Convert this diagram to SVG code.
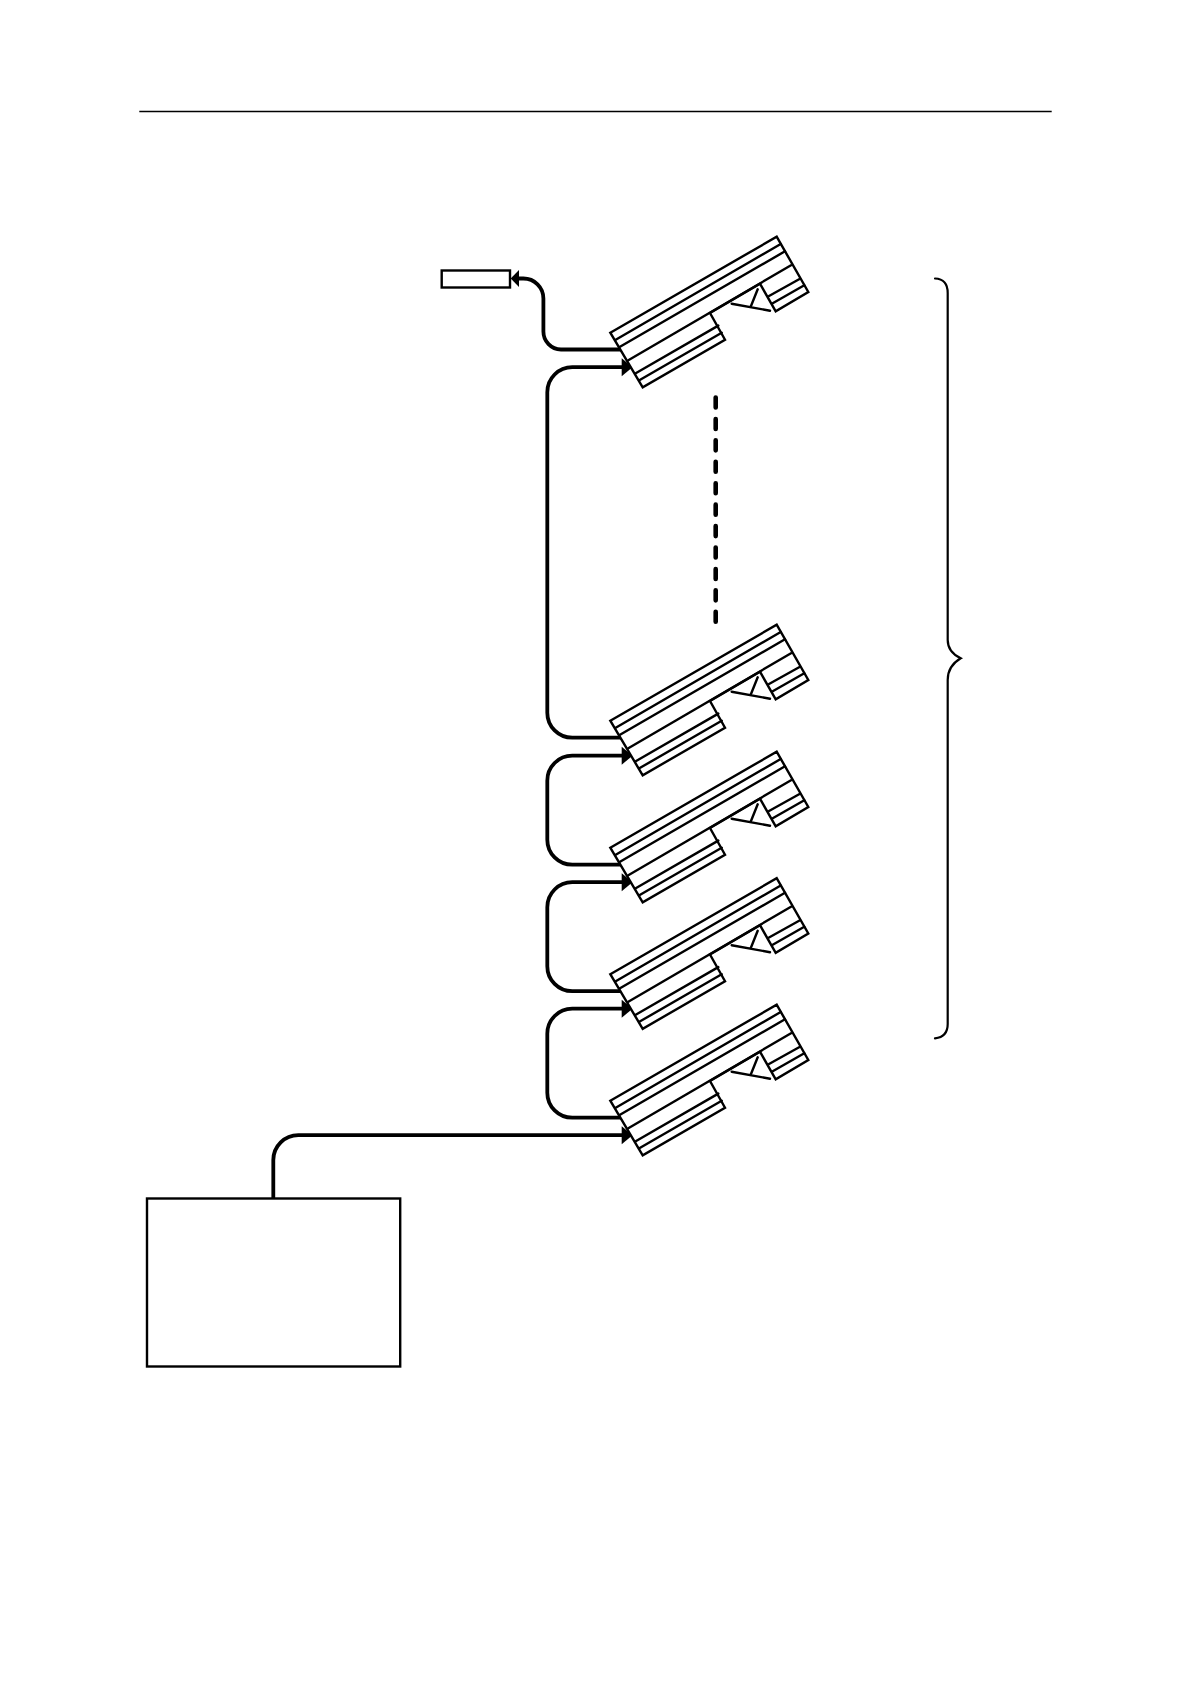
<svg xmlns="http://www.w3.org/2000/svg" width="1190" height="1684" viewBox="0 0 1190 1684">
  <style>
    .box { fill: #fff; stroke: #000; stroke-width: 2.4; }
    .ln { fill: none; stroke: #000; stroke-width: 2.4; stroke-linecap: round; stroke-linejoin: round; }
    .wire { fill: none; stroke: #000; stroke-width: 3.8; }
    .arrow { fill: #000; stroke: none; }
    .thin { fill: none; stroke: #000; stroke-width: 1.3; }
    .brace { fill: none; stroke: #000; stroke-width: 2.2; stroke-linecap: round; }
    .dash { fill: none; stroke: #000; stroke-width: 4.6; stroke-linecap: round; stroke-dasharray: 10 11.43; }
  </style>
  <defs>
    <g id="chip">
      <path class="box" d="M610.3 1100.7L776.7 1004.7L808.3 1060L775.7 1079.3L760 1051.7L710 1081L725 1107.7L642.7 1155.3Z"/>
      <path class="ln" d="M615.7 1107.7L780.7 1012M620 1114.7L785 1019.3M628.3 1128.3L791 1033.3M635.7 1141.3L718.3 1093.6M639.3 1148.3L721.7 1100.7M769 1064L800 1046.7M772.7 1071.3L804.3 1053.3"/>
      <path class="ln" d="M731.7 1071.7L770 1078.7M751 1074L757.7 1057.3"/>
    </g>
  </defs>
  <rect width="1190" height="1684" fill="#fff"/>
  <path id="header-rule" class="thin" d="M139.3 111.5H1051.7"/>
  <g id="connectors">
    <path class="wire" d="M273.3 1198V1160A25 25 0 0 1 298.3 1135.2H624"/>
    <path class="wire" d="M626 1117.7H572.3A25 25 0 0 1 547.3 1092.7V1033.7A25 25 0 0 1 572.3 1008.7H624"/>
    <path class="wire" d="M626 991.2H572.3A25 25 0 0 1 547.3 966.2V907.2A25 25 0 0 1 572.3 882.2H624"/>
    <path class="wire" d="M626 864.7H572.3A25 25 0 0 1 547.3 839.7V780.7A25 25 0 0 1 572.3 755.7H624"/>
    <path class="wire" d="M626 737.7H572.3A25 25 0 0 1 547.3 712.7V392.2A25 25 0 0 1 572.3 367.2H624"/>
    <path class="wire" d="M626 349.5H561A18 18 0 0 1 543.4 331.5V298.5A20 20 0 0 0 523.4 278.5H516"/>
    <path class="arrow" d="M632.5 1135.2L621.7 1126.2V1144.2Z"/>
    <path class="arrow" d="M632.5 1008.7L621.7 999.7V1017.7Z"/>
    <path class="arrow" d="M632.5 882.2L621.7 873.2V891.2Z"/>
    <path class="arrow" d="M632.5 755.7L621.7 746.7V764.7Z"/>
    <path class="arrow" d="M632.5 367.2L621.7 358.2V376.2Z"/>
    <path class="arrow" d="M510.7 278.5L519 270V287Z"/>
  </g>
  <g id="chip-1"><use href="#chip" y="-768"/></g>
  <g id="chip-2"><use href="#chip" y="-380"/></g>
  <g id="chip-3"><use href="#chip" y="-253"/></g>
  <g id="chip-4"><use href="#chip" y="-126.5"/></g>
  <g id="chip-5"><use href="#chip"/></g>
  <g id="terminal"><rect class="box" x="441.7" y="270.5" width="68.3" height="17"/></g>
  <g id="controller"><rect class="box" x="147" y="1198.5" width="253.2" height="168"/></g>
  <g id="continuation"><path class="dash" d="M715.7 397.5V622"/></g>
  <g id="brace"><path class="brace" d="M935 278.5Q947.7 279 947.7 293V640Q947.7 652 960.7 658.3Q947.7 666 947.7 680V1024Q947.7 1037 935 1038.3"/></g>
</svg>
